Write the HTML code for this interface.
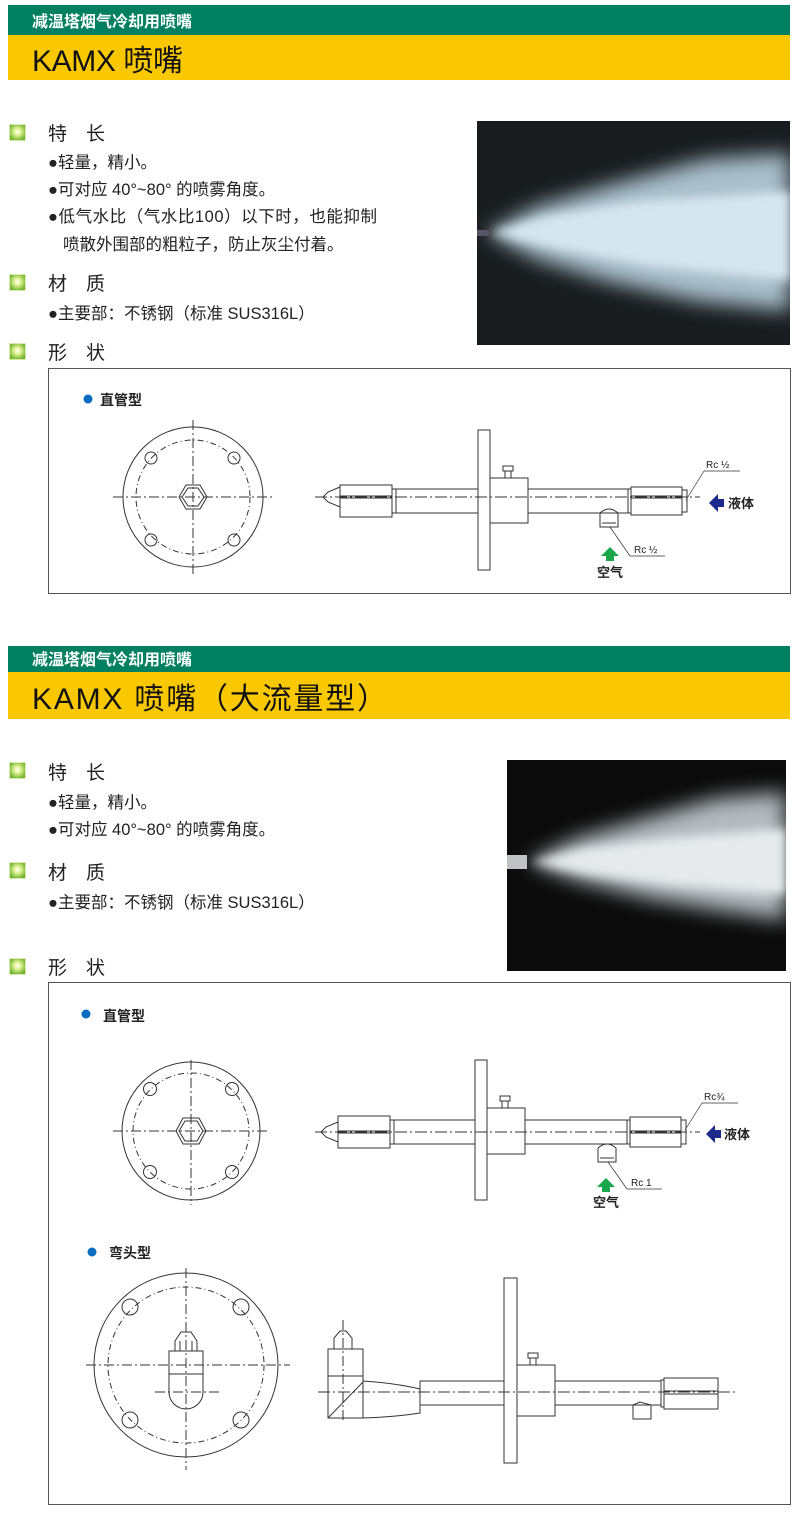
<!DOCTYPE html>
<html><head><meta charset="utf-8"><style>
html,body{margin:0;padding:0;background:#fff;}
svg{display:block;}
text{font-family:"Liberation Sans","Noto Sans CJK SC",sans-serif;}
</style></head><body>
<svg width="804" height="1518" viewBox="0 0 804 1518" xmlns="http://www.w3.org/2000/svg">
<defs>
<radialGradient id="ic" cx="50%" cy="45%" r="60%"><stop offset="0" stop-color="#ffffff"/><stop offset="0.35" stop-color="#e6f59a"/><stop offset="1" stop-color="#6fb52c"/></radialGradient>
<filter id="bl" x="-20%" y="-40%" width="140%" height="180%"><feGaussianBlur stdDeviation="10"/></filter>
<filter id="bl2" x="-20%" y="-40%" width="140%" height="180%"><feGaussianBlur stdDeviation="5"/></filter>
<g id="icon"><rect x="0" y="0" width="17" height="17" fill="#d9e8b0"/><rect x="1" y="1" width="15" height="15" fill="url(#ic)"/></g>
</defs>

<!-- header 1 -->
<rect x="8" y="5" width="782" height="30" fill="#008060"/>
<text x="32" y="27" font-size="16" font-weight="bold" fill="#fff">减温塔烟气冷却用喷嘴</text>
<rect x="8" y="35" width="782" height="45" fill="#fac800"/>
<text x="32" y="71" font-size="30" fill="#111" textLength="151">KAMX 喷嘴</text>

<!-- section 1 text -->
<use href="#icon" x="9" y="124"/>
<text x="48" y="140" font-size="19" fill="#222">特　长</text>
<text x="48" y="168" font-size="16.5" fill="#222">●轻量，精小。</text>
<text x="48" y="195" font-size="16.5" fill="#222">●可对应 40°~80° 的喷雾角度。</text>
<text x="48" y="222" font-size="16.5" fill="#222" textLength="329">●低气水比（气水比100）以下时，也能抑制</text>
<text x="63" y="250" font-size="16.5" fill="#222">喷散外围部的粗粒子，防止灰尘付着。</text>
<use href="#icon" x="9" y="274"/>
<text x="48" y="290" font-size="19" fill="#222">材　质</text>
<text x="48" y="319" font-size="16.5" fill="#222">●主要部：不锈钢（标准 SUS316L）</text>
<use href="#icon" x="9" y="343"/>
<text x="48" y="359" font-size="19" fill="#222">形　状</text>

<!-- photo 1 -->
<svg x="477" y="121" width="313" height="224"><rect width="313" height="224" fill="#181c1e"/>
<polygon points="10,112 60,85 140,62 230,38 313,32 313,190 220,180 130,160 60,138" fill="#a9bfcb" filter="url(#bl)"/>
<polygon points="12,112 70,95 160,80 313,70 313,160 170,145 80,128" fill="#d5e6ee" filter="url(#bl2)"/>
<rect x="0" y="109" width="12" height="6" fill="#556"/></svg>

<!-- box 1 -->
<rect x="48.5" y="368.5" width="742" height="225" fill="none" stroke="#555" stroke-width="1"/>
<circle cx="88" cy="399" r="4.5" fill="#0a6cc0"/>
<text x="100" y="405" font-size="14" font-weight="bold" fill="#222">直管型</text>

<g stroke="#333" stroke-width="1" fill="none">
<circle cx="193" cy="497" r="70"/>
<circle cx="193" cy="497" r="57" stroke-dasharray="6,3,1,3"/>
<line x1="113" y1="497" x2="275" y2="497" stroke-dasharray="10,3,2,3"/>
<line x1="193" y1="420" x2="193" y2="575" stroke-dasharray="10,3,2,3"/>
<circle cx="151" cy="458" r="6"/><circle cx="234" cy="458" r="6"/><circle cx="151" cy="540" r="6"/><circle cx="234" cy="540" r="6"/>
<polygon points="179,497 186,485 200,485 207,497 200,509 186,509"/>
<polygon points="182,497 188,488 198,488 204,497 198,506 188,506"/>
<line x1="315" y1="497" x2="700" y2="497" stroke-dasharray="12,3,2,3"/>
<polygon points="340,487 328,492 323,497 328,502 340,507"/>
<rect x="340" y="485" width="52" height="32"/><line x1="340" y1="496" x2="392" y2="496"/><line x1="340" y1="498" x2="392" y2="498"/>
<rect x="392" y="489" width="4" height="24"/>
<rect x="396" y="489" width="82" height="24"/>
<rect x="478" y="430" width="12" height="140"/>
<rect x="490" y="478" width="38" height="45"/>
<rect x="503" y="466" width="10" height="5"/><rect x="505" y="471" width="6" height="7"/>
<rect x="528" y="489" width="100" height="24"/>
<rect x="628" y="489" width="3" height="24"/>
<rect x="631" y="487" width="51" height="28"/><line x1="631" y1="496" x2="682" y2="496"/><line x1="631" y1="498" x2="682" y2="498"/>
<rect x="682" y="490" width="5" height="22"/>
<path d="M600,513 L600,527 L618,527 L618,513 Q609,505 600,513"/>
<line x1="602" y1="523" x2="616" y2="523"/>
<line x1="686" y1="500" x2="704" y2="471" stroke-width="0.7"/><line x1="704" y1="471" x2="740" y2="471" stroke-width="0.7"/>
<line x1="610" y1="527" x2="630" y2="556" stroke-width="0.7"/><line x1="630" y1="556" x2="665" y2="556" stroke-width="0.7"/>
</g>
<text x="706" y="468" font-size="10" fill="#222">Rc ½</text>
<text x="634" y="553" font-size="10" fill="#222">Rc ½</text>
<polygon points="709,503 718,494 718,499 724,499 724,507 718,507 718,512" fill="#1b2a8a"/>
<text x="728" y="508" font-size="13" font-weight="bold" fill="#222">液体</text>
<polygon points="610,547 619,556 614,556 614,561 606,561 606,556 601,556" fill="#1aa64a"/>
<text x="597" y="577" font-size="13" font-weight="bold" fill="#222">空气</text>

<!-- header 2 -->
<rect x="8" y="646" width="782" height="26" fill="#008060"/>
<text x="32" y="665" font-size="16" font-weight="bold" fill="#fff">减温塔烟气冷却用喷嘴</text>
<rect x="8" y="672" width="782" height="47" fill="#fac800"/>
<text x="32" y="709" font-size="30" fill="#111" textLength="355">KAMX 喷嘴（大流量型）</text>

<use href="#icon" x="9" y="762"/>
<text x="48" y="779" font-size="19" fill="#222">特　长</text>
<text x="48" y="808" font-size="16.5" fill="#222">●轻量，精小。</text>
<text x="48" y="835" font-size="16.5" fill="#222">●可对应 40°~80° 的喷雾角度。</text>
<use href="#icon" x="9" y="862"/>
<text x="48" y="879" font-size="19" fill="#222">材　质</text>
<text x="48" y="908" font-size="16.5" fill="#222">●主要部：不锈钢（标准 SUS316L）</text>
<use href="#icon" x="9" y="958"/>
<text x="48" y="974" font-size="19" fill="#222">形　状</text>

<!-- photo 2 -->
<svg x="507" y="760" width="279" height="211"><rect width="279" height="211" fill="#0b0b0b"/>
<polygon points="22,102 70,78 140,58 210,38 279,32 279,160 210,150 140,138 70,120" fill="#b3babe" filter="url(#bl)"/>
<polygon points="22,102 80,88 160,78 279,68 279,135 160,125 80,114" fill="#e6eaec" filter="url(#bl2)"/>
<rect x="0" y="95" width="20" height="14" fill="#bfc3c5"/></svg>

<!-- box 2 -->
<rect x="48.5" y="982.5" width="742" height="522" fill="none" stroke="#555" stroke-width="1"/>
<circle cx="86" cy="1014" r="4.5" fill="#0a6cc0"/>
<text x="103" y="1021" font-size="14" font-weight="bold" fill="#222">直管型</text>

<g stroke="#333" stroke-width="1" fill="none">
<circle cx="191" cy="1131" r="69"/>
<circle cx="191" cy="1131" r="58" stroke-dasharray="6,3,1,3"/>
<line x1="113" y1="1131" x2="270" y2="1131" stroke-dasharray="10,3,2,3"/>
<line x1="191" y1="1060" x2="191" y2="1205" stroke-dasharray="10,3,2,3"/>
<circle cx="150" cy="1089" r="6.5"/><circle cx="232" cy="1089" r="6.5"/><circle cx="150" cy="1172" r="6.5"/><circle cx="232" cy="1172" r="6.5"/>
<polygon points="176,1131 183,1118 199,1118 206,1131 199,1144 183,1144"/>
<polygon points="179,1131 185,1121 197,1121 203,1131 197,1141 185,1141"/>
<line x1="315" y1="1132" x2="700" y2="1132" stroke-dasharray="12,3,2,3"/>
<polygon points="338,1122 326,1127 321,1132 326,1137 338,1142"/>
<rect x="338" y="1116" width="52" height="32"/><line x1="338" y1="1131" x2="390" y2="1131"/><line x1="338" y1="1133" x2="390" y2="1133"/>
<rect x="390" y="1120" width="4" height="24"/>
<rect x="394" y="1120" width="81" height="24"/>
<rect x="475" y="1060" width="12" height="140"/>
<rect x="487" y="1108" width="38" height="46"/>
<rect x="500" y="1096" width="10" height="5"/><rect x="502" y="1101" width="6" height="7"/>
<rect x="525" y="1120" width="102" height="24"/>
<rect x="627" y="1120" width="3" height="24"/>
<rect x="630" y="1117" width="51" height="30"/><line x1="630" y1="1131" x2="681" y2="1131"/><line x1="630" y1="1133" x2="681" y2="1133"/>
<rect x="681" y="1120" width="5" height="24"/>
<path d="M598,1148 L598,1162 L616,1162 L616,1148 Q607,1140 598,1148"/>
<line x1="600" y1="1158" x2="614" y2="1158"/>
<line x1="685" y1="1130" x2="702" y2="1103" stroke-width="0.7"/><line x1="702" y1="1103" x2="738" y2="1103" stroke-width="0.7"/>
<line x1="608" y1="1162" x2="627" y2="1189" stroke-width="0.7"/><line x1="627" y1="1189" x2="662" y2="1189" stroke-width="0.7"/>
</g>
<text x="704" y="1100" font-size="10" fill="#222">Rc¾</text>
<text x="631" y="1186" font-size="10" fill="#222">Rc 1</text>
<polygon points="706,1134 715,1125 715,1130 721,1130 721,1138 715,1138 715,1143" fill="#1b2a8a"/>
<text x="724" y="1139" font-size="13" font-weight="bold" fill="#222">液体</text>
<polygon points="606,1178 615,1187 610,1187 610,1192 602,1192 602,1187 597,1187" fill="#1aa64a"/>
<text x="593" y="1207" font-size="13" font-weight="bold" fill="#222">空气</text>

<!-- bent type -->
<circle cx="92" cy="1252" r="4.5" fill="#0a6cc0"/>
<text x="109" y="1258" font-size="14" font-weight="bold" fill="#222">弯头型</text>
<g stroke="#333" stroke-width="1" fill="none">
<circle cx="186" cy="1365" r="92"/>
<circle cx="186" cy="1365" r="78" stroke-dasharray="6,3,1,3"/>
<line x1="86" y1="1365" x2="290" y2="1365" stroke-dasharray="10,3,2,3"/>
<line x1="186" y1="1268" x2="186" y2="1470" stroke-dasharray="10,3,2,3"/>
<line x1="155" y1="1392" x2="222" y2="1392" stroke-dasharray="10,3,2,3"/>
<circle cx="130" cy="1307" r="8"/><circle cx="241" cy="1307" r="8"/><circle cx="130" cy="1420" r="8"/><circle cx="241" cy="1420" r="8"/>
<path d="M169,1374 L169,1392 A17,17 0 0 0 203,1392 L203,1374"/>
<rect x="169" y="1351" width="34" height="23"/>
<polygon points="175,1351 175,1341 181,1332 191,1332 197,1341 197,1351"/>
<line x1="180" y1="1341" x2="180" y2="1351"/><line x1="192" y1="1341" x2="192" y2="1351"/>
<line x1="318" y1="1392" x2="735" y2="1392" stroke-dasharray="12,3,2,3"/>
<line x1="343" y1="1320" x2="343" y2="1420" stroke-dasharray="10,3,2,3"/>
<rect x="328" y="1376" width="35" height="42"/>
<line x1="328" y1="1418" x2="363" y2="1382"/>
<rect x="328" y="1349" width="35" height="27"/>
<polygon points="334,1349 334,1338 340,1331 346,1331 352,1338 352,1349"/>
<path d="M363,1381 Q395,1383 420,1389 L420,1413 Q395,1417 363,1418"/>
<rect x="420" y="1381" width="84" height="24"/>
<rect x="504" y="1278" width="13" height="185"/>
<rect x="517" y="1365" width="38" height="51"/>
<rect x="528" y="1353" width="10" height="5"/><rect x="530" y="1358" width="6" height="7"/>
<rect x="555" y="1381" width="106" height="24"/>
<rect x="661" y="1380" width="3" height="27"/>
<rect x="664" y="1378" width="54" height="31"/><line x1="664" y1="1391" x2="718" y2="1391"/><line x1="664" y1="1394" x2="718" y2="1394"/>
<path d="M640,1402 L633,1405 L633,1419 L651,1419 L651,1405 Z"/>
</g>
</svg>
</body></html>
